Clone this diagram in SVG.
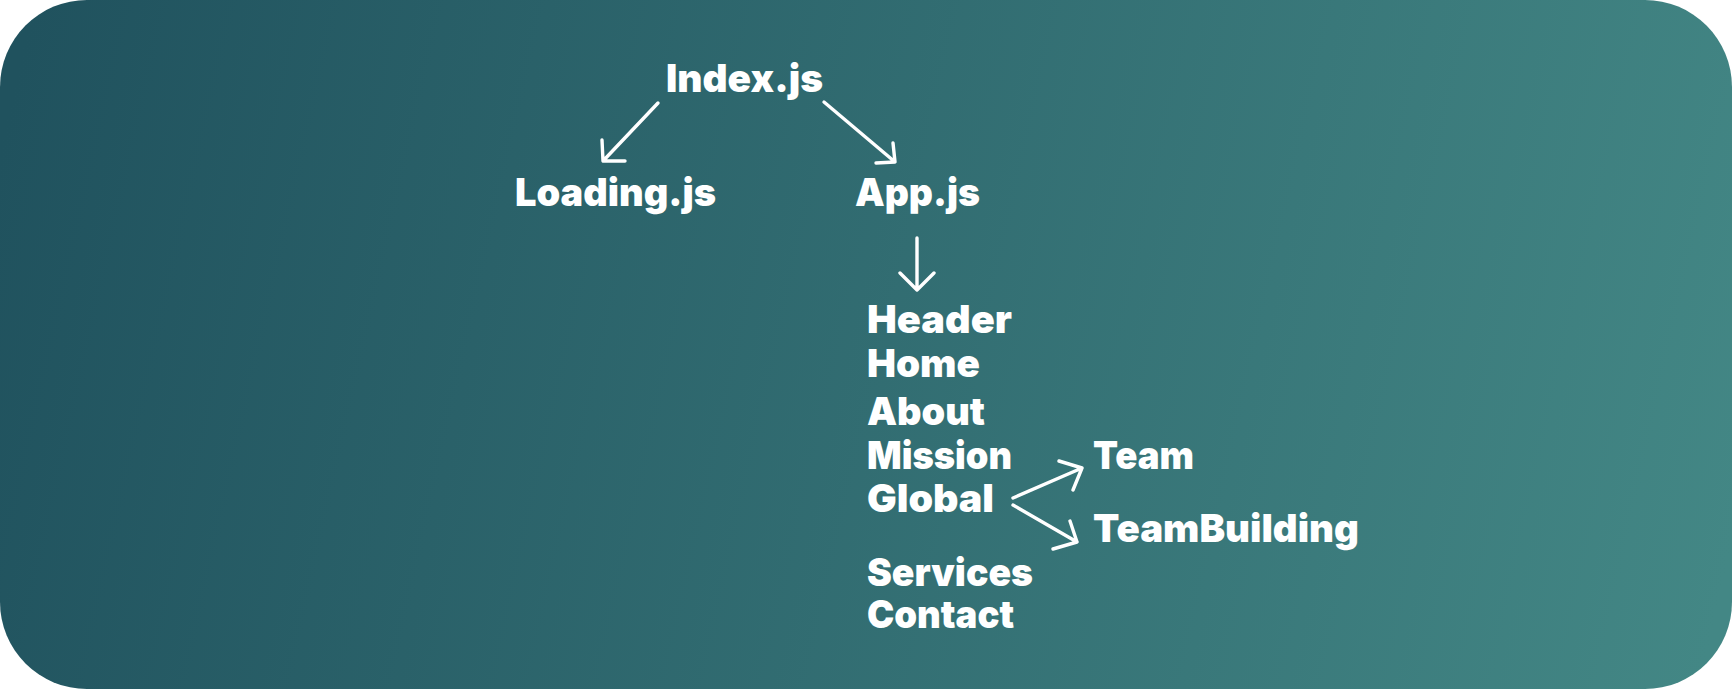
<svg xmlns="http://www.w3.org/2000/svg" width="1733" height="690" viewBox="0 0 1733 690">
  <defs>
    <linearGradient id="bg" gradientUnits="userSpaceOnUse" x1="0" y1="150" x2="1733" y2="540">
      <stop offset="0" stop-color="#20525E"/>
      <stop offset="1" stop-color="#438785"/>
    </linearGradient>
    <style>
      .lbl { font-family: Inter, Lato, "DejaVu Sans", sans-serif; font-weight: 900; font-size: 39px; fill: #ffffff; }
      .ln { fill: none; stroke: #ffffff; stroke-width: 3.4; stroke-linecap: round; stroke-linejoin: round; }
    </style>
  </defs>

  <!-- panel -->
  <rect x="0" y="0" width="1732" height="689" rx="87" ry="87" fill="url(#bg)"/>

  <!-- nodes -->
  <g id="index"><text class="lbl" x="666" y="92" textLength="157" lengthAdjust="spacingAndGlyphs">Index.js</text></g>
  <g id="loading"><text class="lbl" x="515" y="206" textLength="201" lengthAdjust="spacingAndGlyphs">Loading.js</text></g>
  <g id="app"><text class="lbl" x="855" y="206" textLength="125" lengthAdjust="spacingAndGlyphs">App.js</text></g>
  <g id="header"><text class="lbl" x="867" y="333" textLength="145" lengthAdjust="spacingAndGlyphs">Header</text></g>
  <g id="home"><text class="lbl" x="867" y="377" textLength="113" lengthAdjust="spacingAndGlyphs">Home</text></g>
  <g id="about"><text class="lbl" x="867" y="425" textLength="118" lengthAdjust="spacingAndGlyphs">About</text></g>
  <g id="mission"><text class="lbl" x="867" y="469" textLength="145" lengthAdjust="spacingAndGlyphs">Mission</text></g>
  <g id="global"><text class="lbl" x="867" y="512" textLength="127" lengthAdjust="spacingAndGlyphs">Global</text></g>
  <g id="services"><text class="lbl" x="867" y="586" textLength="166" lengthAdjust="spacingAndGlyphs">Services</text></g>
  <g id="contact"><text class="lbl" x="867" y="628" textLength="147" lengthAdjust="spacingAndGlyphs">Contact</text></g>
  <g id="team"><text class="lbl" x="1093" y="469" textLength="101" lengthAdjust="spacingAndGlyphs">Team</text></g>
  <g id="teambuilding"><text class="lbl" x="1093" y="542" textLength="266" lengthAdjust="spacingAndGlyphs">TeamBuilding</text></g>

  <!-- connectors -->
  <g id="connectors">
    <path class="ln" d="M658 103 L603 161 M602 140 L603 161 L625 161"/>
    <path class="ln" d="M824 102 L895 162 M893 143 L895 162 L876 163"/>
    <path class="ln" d="M917 238 L917 290 M900 273 L917 290 L934 273"/>
    <path class="ln" d="M1013 498 L1082 468 M1059 461 L1082 468 L1073 490"/>
    <path class="ln" d="M1013 505 L1077 542 M1070 521 L1077 542 L1053 549"/>
  </g>
</svg>
